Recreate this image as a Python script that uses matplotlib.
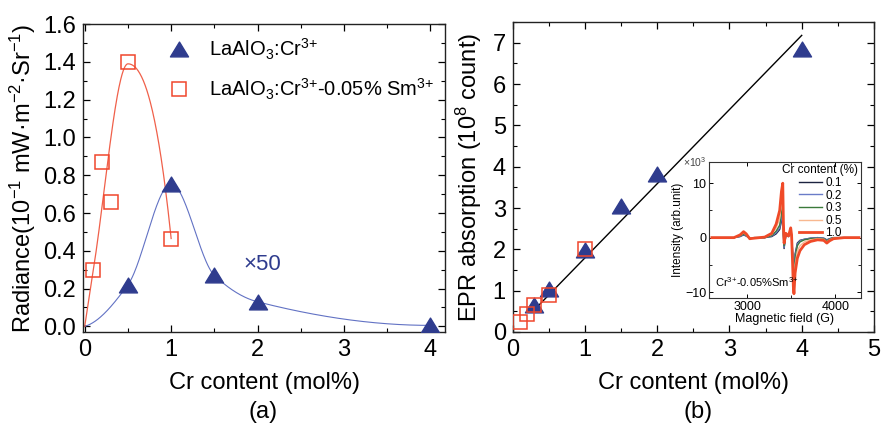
import numpy as np
import matplotlib
matplotlib.use("Agg")
import matplotlib.pyplot as plt
from matplotlib.ticker import MultipleLocator
from matplotlib.path import Path

plt.rcParams['font.family'] = ['Liberation Sans', 'DejaVu Sans']
plt.rcParams['mathtext.fontset'] = 'custom'
plt.rcParams['mathtext.rm'] = 'Liberation Sans'
plt.rcParams['mathtext.it'] = 'Liberation Sans'
plt.rcParams['mathtext.default'] = 'regular'

# ---------------- data: panel (a) ----------------
cr_tri_a = [0.5, 1.0, 1.5, 2.0, 4.0]
rad_tri = [0.22, 0.755, 0.27, 0.13, 0.005]
cr_sq_a = [0.1, 0.2, 0.3, 0.5, 1.0]
rad_sq = [0.30, 0.87, 0.66, 1.40, 0.465]
# curve knots (origin + selected measured points)
curve_blue_x = [0.0, 0.5, 1.0, 1.5, 2.0, 4.0]
curve_blue_y = [0.0, 0.22, 0.755, 0.27, 0.13, 0.005]
curve_red_x = [0.0, 0.1, 0.5, 1.0]
curve_red_y = [0.0, 0.30, 1.39, 0.465]

# ---------------- data: panel (b) ----------------
cr_tri_b = [0.3, 0.5, 1.0, 1.5, 2.0, 4.0]
epr_tri = [0.66, 1.03, 1.98, 3.05, 3.83, 6.85]
cr_sq_b = [0.1, 0.2, 0.3, 0.5, 1.0]
epr_sq = [0.24, 0.43, 0.66, 0.89, 2.0]

# ---------------- data: inset EPR spectra ----------------
field = [2600, 2850, 2920, 2960, 2990, 3030, 3080, 3200, 3280, 3330, 3370,
         3390, 3405, 3412, 3420, 3440, 3470, 3495, 3505, 3515, 3525, 3532,
         3545, 3570, 3600, 3650, 3720, 3800, 3870, 3905, 3935, 3980, 4100, 4270]
int_01 = [0, 0, 0.2, 0.5, 0.3, -0.1, 0, 0, 0.2, 0.7, 1.5,
          3.0, 4.5, 0.5, -2.0, 0.4, 0.2, 1.2, 0.3, -2.0, -5.5, -7.5,
          -3.0, -1.0, -0.5, -0.3, -0.1, 0, -0.1, -0.4, -0.2, 0, 0, 0]
int_02 = [0, 0, 0.2, 0.6, 0.3, -0.1, 0, 0, 0.3, 0.9, 1.8,
          3.5, 5.0, 0.6, -1.8, 0.5, 0.2, 1.3, 0.3, -2.5, -6.0, -8.0,
          -3.5, -1.2, -0.6, -0.3, -0.1, 0, -0.1, -0.5, -0.2, 0, 0, 0]
int_03 = [0, 0, 0.3, 0.7, 0.4, -0.1, 0, 0, 0.4, 1.2, 2.3,
          4.5, 6.0, 0.8, -1.5, 0.6, 0.3, 1.5, 0.4, -3.0, -7.0, -9.0,
          -4.0, -1.5, -0.8, -0.4, -0.2, -0.1, -0.2, -0.6, -0.3, 0, 0, 0]
int_05 = [0, 0, 0.4, 0.9, 0.5, -0.1, 0, 0.1, 0.6, 1.8, 3.5,
          6.5, 8.0, 1.5, -1.0, 0.7, 0.3, 1.6, 0.5, -3.5, -8.0, -9.5,
          -5.0, -2.5, -1.5, -0.8, -0.4, -0.2, -0.3, -0.8, -0.4, -0.1, 0, 0]
int_10 = [0, 0, 0.5, 1.1, 0.7, -0.2, -0.1, 0.1, 0.8, 2.5, 5.0,
          8.5, 10.0, 3.0, -1.0, 0.8, 0.3, 1.8, 0.5, -4.0, -9.0, -10.3,
          -6.5, -3.8, -2.4, -1.3, -0.7, -0.4, -0.5, -1.0, -0.6, -0.2, 0, 0]
inset_labels = ['0.1', '0.2', '0.3', '0.5', '1.0']
inset_colors = ['#1c2340', '#6a7cc8', '#3a7a3a', '#f8b890', '#f04a28']


def pchip(x, y, xs):
    x = np.asarray(x, float); y = np.asarray(y, float); xs = np.asarray(xs, float)
    n = len(x)
    h = np.diff(x); d = np.diff(y) / h
    m = np.zeros(n)
    for k in range(1, n - 1):
        if d[k - 1] * d[k] > 0:
            w1 = 2 * h[k] + h[k - 1]; w2 = h[k] + 2 * h[k - 1]
            m[k] = (w1 + w2) / (w1 / d[k - 1] + w2 / d[k])

    def endslope(h0, h1, d0, d1):
        s = ((2 * h0 + h1) * d0 - h0 * d1) / (h0 + h1)
        if np.sign(s) != np.sign(d0):
            s = 0.0
        elif np.sign(d0) != np.sign(d1) and abs(s) > abs(3 * d0):
            s = 3 * d0
        return s
    m[0] = endslope(h[0], h[1], d[0], d[1])
    m[-1] = endslope(h[-1], h[-2], d[-1], d[-2])
    idx = np.clip(np.searchsorted(x, xs) - 1, 0, n - 2)
    t = (xs - x[idx]) / h[idx]
    h00 = 2 * t**3 - 3 * t**2 + 1; h10 = t**3 - 2 * t**2 + t
    h01 = -2 * t**3 + 3 * t**2; h11 = t**3 - t**2
    return h00 * y[idx] + h10 * h[idx] * m[idx] + h01 * y[idx + 1] + h11 * h[idx] * m[idx + 1]


TRI = Path([(-1, -0.82), (1, -0.82), (0, 0.82), (-1, -0.82)],
           [Path.MOVETO, Path.LINETO, Path.LINETO, Path.CLOSEPOLY])
BLUE = '#2f3c8e'
RED = '#f0462c'
FS = 17

fig = plt.figure(figsize=(8.81, 4.24), dpi=100)
axA = fig.add_axes([0.0942, 0.217, 0.411, 0.726])
axB = fig.add_axes([0.582, 0.217, 0.410, 0.731])


def style(ax, fs=FS):
    ax.tick_params(which='both', direction='in', top=True, right=True, labelsize=fs, pad=5)
    ax.tick_params(which='major', length=5, width=0.9)
    ax.tick_params(which='minor', length=3, width=0.8)
    for s in ax.spines.values():
        s.set_linewidth(1.0)
        s.set_color('#222222')


# ---- panel (a)
xs = np.linspace(0, 4, 400)
axA.plot(xs, pchip(curve_blue_x, curve_blue_y, xs), color='#6272c4', lw=0.8, zorder=2)
xr = np.linspace(0, 1, 200)
axA.plot(xr, pchip(curve_red_x, curve_red_y, xr), color='#f0604a', lw=0.9, zorder=2)
axA.plot(cr_tri_a, rad_tri, ls='none', marker=TRI, ms=13, color=BLUE, mec=BLUE,
         label=r'LaAlO$_3$:Cr$^{3{+}}$', zorder=3)
axA.plot(cr_sq_a, rad_sq, ls='none', marker='s', ms=9.5, mfc='none', mec=RED, mew=1.1,
         label=r'LaAlO$_3$:Cr$^{3{+}}$-0.05% Sm$^{3{+}}$', zorder=3)
axA.set_xlim(-0.02, 4.17)
axA.set_ylim(-0.03, 1.6)
axA.xaxis.set_major_locator(MultipleLocator(1))
axA.xaxis.set_minor_locator(MultipleLocator(0.5))
axA.yaxis.set_major_locator(MultipleLocator(0.2))
axA.yaxis.set_minor_locator(MultipleLocator(0.1))
axA.yaxis.set_major_formatter(matplotlib.ticker.FormatStrFormatter('%.1f'))
style(axA)
axA.set_xlabel('Cr content (mol%)', fontsize=FS, labelpad=8)
axA.set_ylabel(r'Radiance(10$^{-1}$ mW·m$^{-2}$·Sr$^{-1}$)', fontsize=FS, labelpad=4)
leg = axA.legend(loc='upper left', bbox_to_anchor=(0.238, 0.96), frameon=False,
                 fontsize=14.5, handlelength=1.0, handletextpad=1.0, labelspacing=0.75,
                 borderpad=0, borderaxespad=0)
axA.text(2.05, 0.33, '×50', color=BLUE, fontsize=16, ha='center', va='center')
fig.text(0.299, 0.028, '(a)', fontsize=FS, ha='center', va='center')

# ---- panel (b)
xb = np.asarray(cr_tri_b); yb = np.asarray(epr_tri)
slope = np.sum(xb * yb) / np.sum(xb * xb)
xl = np.array([xb.min(), xb.max()])
axB.plot(xl, slope * xl, color='black', lw=1.0, zorder=2)
axB.plot(cr_tri_b, epr_tri, ls='none', marker=TRI, ms=13, color=BLUE, mec=BLUE, zorder=3)
axB.plot(cr_sq_b, epr_sq, ls='none', marker='s', ms=10, mfc='none', mec=RED, mew=1.1, zorder=4)
axB.set_xlim(0, 5)
axB.set_ylim(0, 7.5)
axB.xaxis.set_major_locator(MultipleLocator(1))
axB.xaxis.set_minor_locator(MultipleLocator(0.5))
axB.yaxis.set_major_locator(MultipleLocator(1))
axB.yaxis.set_minor_locator(MultipleLocator(0.5))
style(axB)
axB.set_xlabel('Cr content (mol%)', fontsize=FS, labelpad=8)
axB.set_ylabel(r'EPR absorption (10$^8$ count)', fontsize=FS, labelpad=6)
fig.text(0.792, 0.028, '(b)', fontsize=FS, ha='center', va='center')

# ---- inset
axI = fig.add_axes([0.805, 0.297, 0.172, 0.321])
for yv, lab, col in zip([int_01, int_02, int_03, int_05, int_10], inset_labels, inset_colors):
    axI.plot(field, yv, color=col, lw=2.0 if lab == '1.0' else 1.0, label=lab)
axI.set_xlim(2570, 4290)
axI.set_ylim(-11.1, 13.9)
axI.xaxis.set_major_locator(MultipleLocator(1000))
axI.xaxis.set_minor_locator(MultipleLocator(500))
axI.yaxis.set_major_locator(MultipleLocator(10))
axI.yaxis.set_minor_locator(MultipleLocator(5))
axI.tick_params(which='both', direction='in', top=True, right=True, labelsize=9, pad=2)
axI.tick_params(which='major', length=3, width=0.7)
axI.tick_params(which='minor', length=2, width=0.6)
for s in axI.spines.values():
    s.set_linewidth(0.8); s.set_color('#333333')
axI.set_xlabel('Magnetic field (G)', fontsize=9, labelpad=0)
axI.set_ylabel('Intensity (arb.unit)', fontsize=8.5, labelpad=1)
axI.text(-0.02, 1.0, r'×10$^3$', transform=axI.transAxes, fontsize=7.5, ha='right', va='center',
         color='#444444')
axI.text(0.04, 0.07, r'Cr$^{3{+}}$-0.05%Sm$^{3{+}}$', transform=axI.transAxes, fontsize=8,
         ha='left', va='bottom')
li = axI.legend(loc='upper right', frameon=False, fontsize=8.5, title='Cr content (%)',
                title_fontsize=8.5, handlelength=1.9, handletextpad=0.3, labelspacing=0.05,
                borderpad=0.1, borderaxespad=0.1)

fig.savefig('out.png', dpi=100)
